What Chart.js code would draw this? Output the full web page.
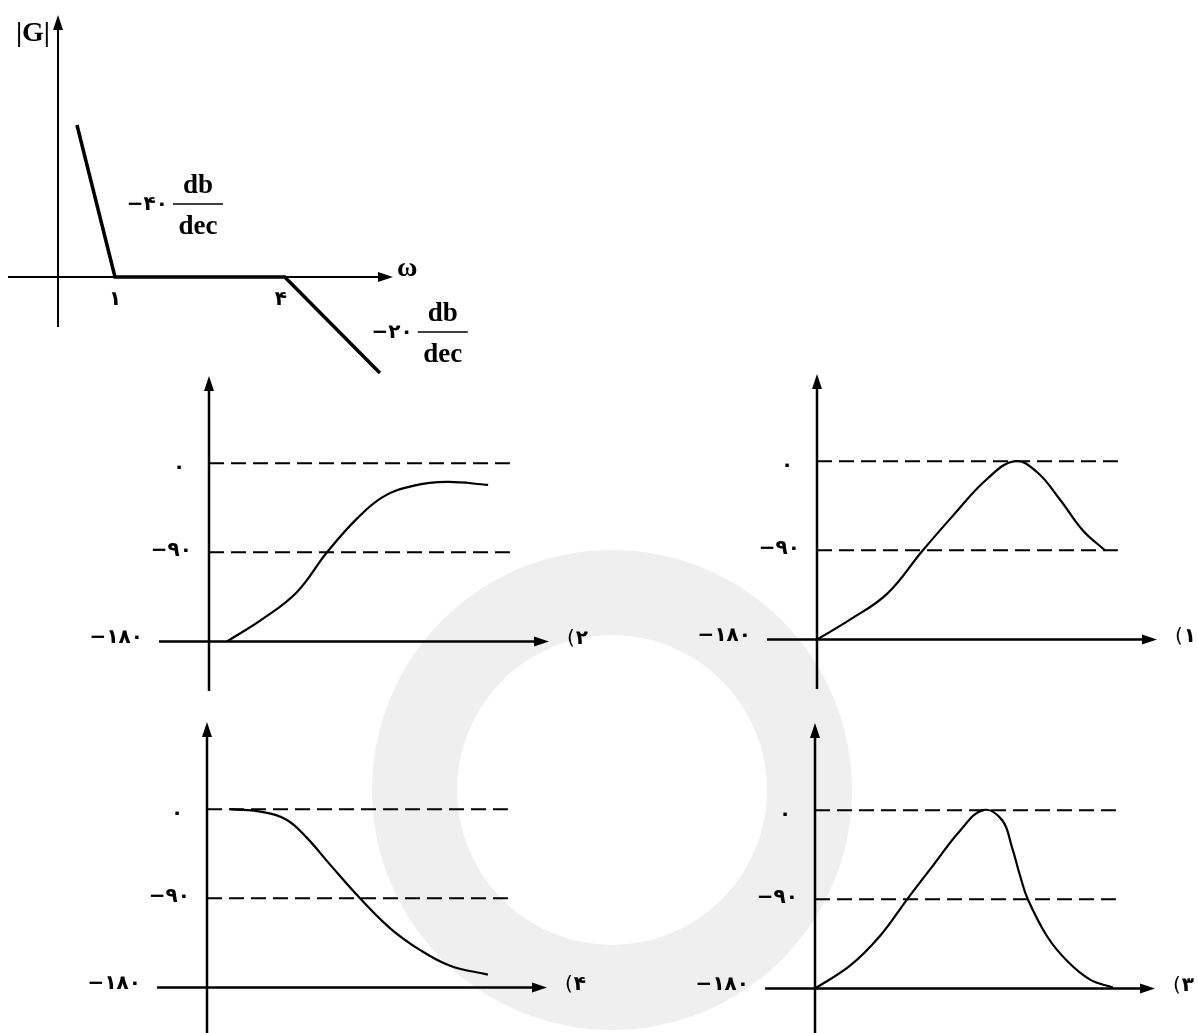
<!DOCTYPE html>
<html>
<head>
<meta charset="utf-8">
<script src="https://cdn.jsdelivr.net/npm/chart.js@4.4.1/dist/chart.umd.min.js"></script>
<style>
  html, body { margin: 0; padding: 0; background: #fff; overflow: hidden; }
  body { width: 1198px; height: 1033px; position: relative; }
  canvas { position: absolute; }
  .mark {
    position: absolute; left: 372px; top: 550px; width: 480px; height: 480px;
    border-radius: 50%; border: 85px solid #efefef; box-sizing: border-box;
  }
</style>
</head>
<body>
<div class="mark"></div>
<canvas id="mag"></canvas>
<canvas id="p1"></canvas>
<canvas id="p2"></canvas>
<canvas id="p3"></canvas>
<canvas id="p4"></canvas>
<script>
// |G| asymptotes (schematic height units, as drawn)
const magOmega = [0.733, 1, 4, 8.7];
const magLevel = [15.2, 0, 0, -9.6];
const magTicks = [1, 4];
const magTickLabels = ['۱', '۴'];
const slopeLabels = ['−۴۰', '−۲۰'];

// phase plots: y in degrees, x in arbitrary frequency units (axis runs 0..10)
const phaseTicks = [0, -90, -180];
const phaseTickLabels = ['۰', '−۹۰', '−۱۸۰'];
const guideX = [0, 8.85];
const optionNumbers = ['۱', '۲', '۳', '۴'];

const p1X = [0, 0.97, 2.06, 3.09, 4.0, 5.0, 5.82, 6.47, 7.15, 7.82, 8.47];
const p1Y = [-180, -160, -134, -91, -55, -18, 0, -11, -39, -70, -90];

const p2X = [0.53, 1.59, 2.59, 3.47, 4.35, 5.12, 6.0, 7.0, 8.21];
const p2Y = [-180, -157, -130, -90, -56, -34, -23, -19, -22];

const p3X = [0, 1.03, 1.91, 2.71, 3.47, 4.26, 4.94, 5.5, 5.79, 6.03, 6.26, 6.82, 7.41, 8.09, 8.76];
const p3Y = [-180, -157, -127, -90, -56, -21, 0, -10, -37, -66, -90, -127, -152, -171, -179];

const p4X = [0.68, 1.65, 2.35, 2.94, 3.62, 4.5, 5.38, 6.26, 7.15, 8.26];
const p4Y = [0, -3, -11, -29, -56, -90, -120, -142, -158, -167];

const FA = 'bold 20px "DejaVu Sans", sans-serif';
const SERIF = '"Liberation Serif", "DejaVu Serif", serif';
const PX = 34;   // px per x unit in the phase plots

// draws the two axes with arrow heads, using the chart's own scales
const axesPlugin = {
  id: 'axes',
  beforeDatasetsDraw(chart, args, o) {
    const { ctx } = chart;
    const x = chart.scales.x, y = chart.scales.y;
    const cx = x.getPixelForValue(o.yAxisAt);
    const cy = y.getPixelForValue(o.xAxisAt);
    const top = y.getPixelForValue(o.yRange[1]);
    const bottom = y.getPixelForValue(o.yRange[0]);
    const left = x.getPixelForValue(o.xRange[0]);
    const right = x.getPixelForValue(o.xRange[1]);
    ctx.save();
    ctx.strokeStyle = '#000';
    ctx.fillStyle = '#000';
    ctx.lineWidth = o.width;
    ctx.beginPath();
    ctx.moveTo(cx, bottom); ctx.lineTo(cx, top + 10);
    ctx.moveTo(left, cy); ctx.lineTo(right - 10, cy);
    ctx.stroke();
    ctx.beginPath();
    ctx.moveTo(cx, top); ctx.lineTo(cx - 5, top + 15); ctx.lineTo(cx + 5, top + 15); ctx.closePath();
    ctx.moveTo(right, cy); ctx.lineTo(right - 15, cy - 5); ctx.lineTo(right - 15, cy + 5); ctx.closePath();
    ctx.fill();
    ctx.restore();
  }
};

const baseOptions = (xScale, yScale, axes) => ({
  responsive: false,
  animation: false,
  events: [],
  layout: { padding: 0 },
  elements: { point: { radius: 0 } },
  scales: { x: xScale, y: yScale },
  plugins: { legend: { display: false }, tooltip: { enabled: false }, axes }
});

// ---- magnitude sketch ----
(function () {
  const canvas = document.getElementById('mag');
  canvas.width = 480; canvas.height = 385;
  canvas.style.left = '0px'; canvas.style.top = '0px';

  function slope(ctx, barX, barY, num) {
    ctx.fillStyle = '#000';
    ctx.strokeStyle = '#000';
    ctx.font = FA;
    ctx.textAlign = 'right';
    ctx.textBaseline = 'middle';
    ctx.fillText(num, barX - 5, barY + 1);
    ctx.lineWidth = 1.5;
    ctx.beginPath(); ctx.moveTo(barX, barY); ctx.lineTo(barX + 50, barY); ctx.stroke();
    ctx.font = 'bold 27px ' + SERIF;
    ctx.textAlign = 'center';
    ctx.fillText('db', barX + 25, barY - 18);
    ctx.fillText('dec', barX + 25, barY + 23);
  }

  new Chart(canvas, {
    type: 'line',
    data: {
      datasets: [{
        data: magOmega.map((w, i) => ({ x: w, y: magLevel[i] })),
        borderColor: '#000', borderWidth: 3.5, clip: false
      }]
    },
    options: baseOptions(
      { type: 'logarithmic', display: false, min: 0.391, max: 19.7 },
      { type: 'linear', display: false, min: -10.8, max: 27.7 },
      { yAxisAt: 0.628, xAxisAt: 0, xRange: [0.4174, 9.68], yRange: [-5, 26.2], width: 2 }
    ),
    plugins: [axesPlugin, {
      id: 'magText',
      afterDatasetsDraw(chart) {
        const { ctx } = chart;
        const x = chart.scales.x, y = chart.scales.y;
        const y0 = y.getPixelForValue(0);
        ctx.save();
        ctx.fillStyle = '#000';
        ctx.font = FA;
        ctx.textAlign = 'center';
        ctx.textBaseline = 'middle';
        magTicks.forEach((t, i) => ctx.fillText(magTickLabels[i], x.getPixelForValue(t) - (i ? 4 : 0), y0 + 23));
        ctx.font = 'bold 28px ' + SERIF;
        ctx.textAlign = 'left';
        ctx.fillText('ω', x.getPixelForValue(9.68) + 4, y0 - 8);
        ctx.textAlign = 'right';
        ctx.fillText('|G|', x.getPixelForValue(0.628) - 8, y.getPixelForValue(26.2) + 19);
        slope(ctx, x.getPixelForValue(1) + 58, y0 - 73, slopeLabels[0]);
        slope(ctx, x.getPixelForValue(4) + 133, y0 + 55, slopeLabels[1]);
        ctx.restore();
      }
    }]
  });
})();

// ---- phase plots ----
const labelDx = [-30, -17, -66];
const labelDy = [5, -2, -4];
const labelAlign = ['center', 'right', 'right'];

function phaseChart(id, ox, oy, xs, ys, num) {
  const canvas = document.getElementById(id);
  canvas.width = 520; canvas.height = 327;
  canvas.style.left = (ox - 130) + 'px';
  canvas.style.top = Math.round(oy - 272.5) + 'px';

  const guide = (level) => ({
    data: guideX.map((v) => ({ x: v, y: level })),
    borderColor: '#000', borderWidth: 2, borderDash: [15, 7], clip: false
  });

  new Chart(canvas, {
    type: 'line',
    data: {
      datasets: [
        guide(phaseTicks[0]),
        guide(phaseTicks[1]),
        {
          data: xs.map((v, i) => ({ x: v, y: ys[i] })),
          borderColor: '#000', borderWidth: 2.2, clip: false, tension: 0.4
        }
      ]
    },
    options: baseOptions(
      { type: 'linear', display: false, min: -130 / PX, max: 390 / PX },
      { type: 'linear', display: false, min: -235, max: 95 },
      { yAxisAt: 0, xAxisAt: -180, xRange: [-1.47, 10], yRange: [-230, 88], width: 2.5 }
    ),
    plugins: [axesPlugin, {
      id: 'phaseText',
      afterDatasetsDraw(chart) {
        const { ctx } = chart;
        const x = chart.scales.x, y = chart.scales.y;
        const x0 = x.getPixelForValue(0);
        ctx.save();
        ctx.direction = 'ltr';
        ctx.fillStyle = '#000';
        ctx.font = FA;
        ctx.textBaseline = 'middle';
        phaseTicks.forEach((t, i) => {
          ctx.textAlign = labelAlign[i];
          ctx.fillText(phaseTickLabels[i], x0 + labelDx[i], y.getPixelForValue(t) + labelDy[i]);
        });
        // option number, drawn as "(n" the way the RTL page shows it
        const tx = x.getPixelForValue(10) + 18, ty = y.getPixelForValue(-180) - 3;
        ctx.textAlign = 'left';
        ctx.font = '20px "DejaVu Sans", sans-serif';
        ctx.fillText('(', tx, ty);
        const pw = ctx.measureText('(').width;
        ctx.font = 'bold 20px "DejaVu Sans", sans-serif';
        ctx.fillText(num, tx + pw + 1, ty);
        ctx.restore();
      }
    }]
  });
}

phaseChart('p1', 817, 639, p1X, p1Y, optionNumbers[0]);
phaseChart('p2', 209, 641, p2X, p2Y, optionNumbers[1]);
phaseChart('p3', 815, 988, p3X, p3Y, optionNumbers[2]);
phaseChart('p4', 207, 987, p4X, p4Y, optionNumbers[3]);
</script>
</body>
</html>
